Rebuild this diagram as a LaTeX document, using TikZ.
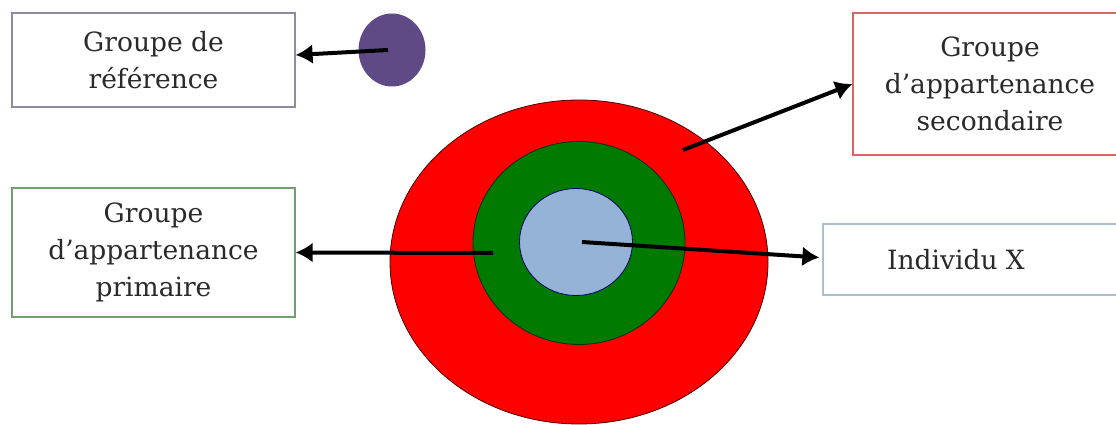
\documentclass[tikz,border=0pt]{standalone}
\usepackage{fontspec}
\setmainfont{DejaVu Serif}
\usetikzlibrary{shapes.geometric, arrows.meta, positioning}
\definecolor{ringred}{HTML}{FF0000}
\definecolor{ringgreen}{HTML}{007A00}
\definecolor{coreblue}{HTML}{95B3D7}
\definecolor{refpurple}{HTML}{5F4A86}
\definecolor{textgray}{HTML}{2A2A2A}
\tikzset{
  groupbox/.style={rectangle, line width=1.2pt, fill=white,
    text centered, align=center, text=textgray,
    font=\fontsize{26.5}{37}\selectfont},
  refbox/.style={groupbox, draw={rgb,255:red,140;green,138;blue,165},
    minimum width=283pt, minimum height=94pt},
  secbox/.style={groupbox, draw={rgb,255:red,222;green,100;blue,104},
    minimum width=274pt, minimum height=142pt},
  primbox/.style={groupbox, draw={rgb,255:red,112;green,160;blue,112},
    minimum width=283pt, minimum height=129pt},
  indivbox/.style={groupbox, draw={rgb,255:red,170;green,192;blue,205},
    minimum width=307pt, minimum height=71pt},
  ring/.style={ellipse, draw=black!70!red, line width=0.8pt, inner sep=0pt},
  arr/.style={-{Latex[length=17pt, width=20pt]}, line width=4pt, draw=black},
}

\begin{document}
\begin{tikzpicture}[x=1pt, y=-1pt]
\useasboundingbox (0,0) rectangle (1116,425);
\clip (0,0) rectangle (1116,425);

% Target rings
\node (outer) [ring, fill=ringred, minimum width=378pt, minimum height=324pt]
  at (579,262) {};
\node (middle) [ring, fill=ringgreen, draw=black!80!green,
  minimum width=212pt, minimum height=203pt] at (579,243) {};
\node (inner) [ring, fill=coreblue, draw=black!60!blue,
  minimum width=113pt, minimum height=107pt] at (576,242) {};

% Reference dot
\node (dot) [ellipse, fill=refpurple, minimum width=67pt, minimum height=73pt]
  at (392,50) {};

% Boxes
\node (ref) [refbox] at (153.5,60) {Groupe de\\référence};
\node (sec) [secbox] at (990,84) {Groupe\\d’appartenance\\secondaire};
\node (prim) [primbox] at (153.5,252.5) {Groupe\\d’appartenance\\primaire};
\node (indiv) [indivbox] at (976.5,259.5) {\hspace*{-41pt}Individu X};

% Arrow starts
\coordinate (redpt) at (683,150);
\coordinate (greenpt) at (493,253);

% Arrows
\draw[arr] ([xshift=-4pt]dot.center) -- ([yshift=5pt]ref.east);
\draw[arr] (redpt)   -- (sec.west);
\draw[arr] (greenpt) -- (prim.east);
\draw[arr] ([xshift=6pt]inner.center) -- ([xshift=-3pt,yshift=2pt]indiv.west);

\end{tikzpicture}
\end{document}
